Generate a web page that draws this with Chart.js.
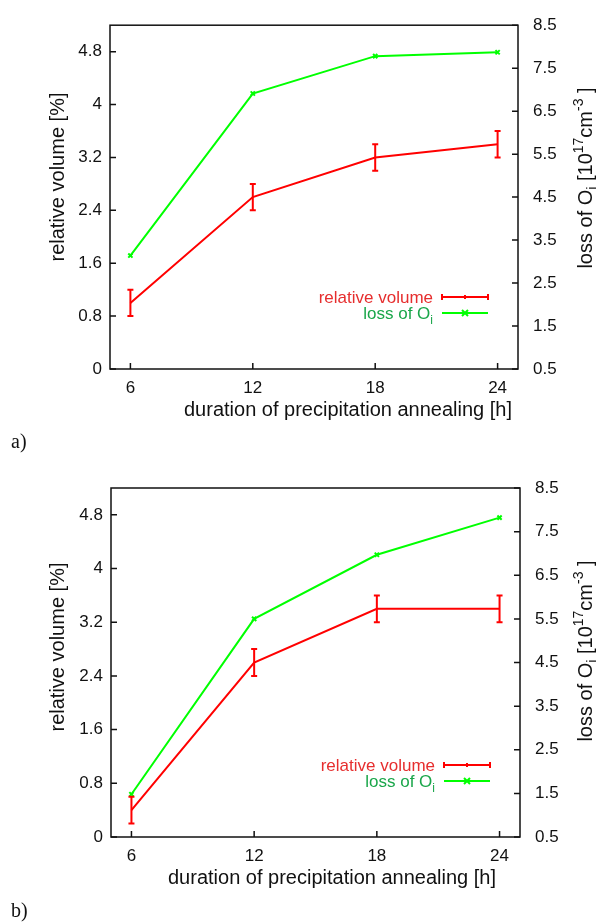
<!DOCTYPE html>
<html lang="en">
<head>
<meta charset="UTF-8">
<title>Relative volume and loss of Oi vs. annealing time</title>
<script src="https://cdn.jsdelivr.net/npm/chart.js"></script>
<style>
  body { margin: 0; background: #fff; }
  .panel { position: absolute; left: 0; width: 596px; }
  #panelA { top: 0; height: 460px; }
  #panelB { top: 460px; height: 462px; }
</style>
</head>
<body>
<div class="panel" id="panelA"><canvas id="chartA"></canvas></div>
<div class="panel" id="panelB"><canvas id="chartB"></canvas></div>
<script>
// annealing durations [h]
const hours = [6, 12, 18, 24];

// panel a
const volA = [1.0, 2.6, 3.2, 3.4];
const volErrA = [0.2, 0.2, 0.2, 0.2];
const lossA = [3.14, 6.91, 7.78, 7.87];

// panel b
const volB = [0.4, 2.6, 3.4, 3.4];
const volErrB = [0.2, 0.2, 0.2, 0.2];
const lossB = [1.48, 5.5, 6.97, 7.82];

// tick labels
const xTicks = [6, 12, 18, 24];
const yTicks = [0, 0.8, 1.6, 2.4, 3.2, 4, 4.8];
const y2Ticks = [0.5, 1.5, 2.5, 3.5, 4.5, 5.5, 6.5, 7.5, 8.5];

const SANS = '"Liberation Sans", Arial, Helvetica, sans-serif';
const SERIF = '"Liberation Serif", "Times New Roman", serif';
const INK = '#111';

Chart.defaults.font.family = SANS;
Chart.defaults.color = INK;

// draws a string made of pieces (sub/superscripts) starting at x
function richWidth(ctx, parts) {
    let w = 0;
    parts.forEach(p => {
        ctx.font = p.size + 'px ' + SANS;
        w += ctx.measureText(p.t).width;
    });
    return w;
}
function drawRich(ctx, parts, x, y, align) {
    const w = richWidth(ctx, parts);
    let cx = align === 'right' ? x - w : (align === 'center' ? x - w / 2 : x);
    ctx.textAlign = 'left';
    ctx.textBaseline = 'alphabetic';
    parts.forEach(p => {
        ctx.font = p.size + 'px ' + SANS;
        ctx.fillText(p.t, cx, y + (p.dy || 0));
        cx += ctx.measureText(p.t).width;
    });
}

const errorBars = {
    id: 'errorBars',
    afterDatasetsDraw(chart) {
        const ctx = chart.ctx;
        const xs = chart.scales.x;
        chart.data.datasets.forEach(ds => {
            if (!ds.errors) return;
            const ys = chart.scales[ds.yAxisID];
            ctx.save();
            ctx.strokeStyle = ds.borderColor;
            ctx.lineWidth = 2;
            ds.data.forEach((pt, j) => {
                const px = xs.getPixelForValue(pt.x);
                const top = ys.getPixelForValue(pt.y + ds.errors[j]);
                const bot = ys.getPixelForValue(pt.y - ds.errors[j]);
                ctx.beginPath();
                ctx.moveTo(px, top); ctx.lineTo(px, bot);
                ctx.moveTo(px - 3, top); ctx.lineTo(px + 3, top);
                ctx.moveTo(px - 3, bot); ctx.lineTo(px + 3, bot);
                ctx.stroke();
            });
            ctx.restore();
        });
    }
};

const frame = {
    id: 'frame',
    afterDraw(chart) {
        const ctx = chart.ctx;
        const a = chart.chartArea;
        const p = chart.options.plugins.frame;
        const {x, y, y2} = chart.scales;
        ctx.save();
        ctx.strokeStyle = INK;
        ctx.lineWidth = 1.5;
        ctx.strokeRect(a.left, a.top, a.right - a.left, a.bottom - a.top);
        ctx.beginPath();
        xTicks.forEach(v => {
            const px = x.getPixelForValue(v);
            ctx.moveTo(px, a.bottom); ctx.lineTo(px, a.bottom - 6);
        });
        yTicks.forEach(v => {
            const py = y.getPixelForValue(v);
            ctx.moveTo(a.left, py); ctx.lineTo(a.left + 6, py);
        });
        y2Ticks.forEach(v => {
            const py = y2.getPixelForValue(v);
            ctx.moveTo(a.right, py); ctx.lineTo(a.right - 6, py);
        });
        ctx.stroke();

        // axis titles
        ctx.fillStyle = INK;
        ctx.font = '20px ' + SANS;
        ctx.textAlign = 'center';
        ctx.textBaseline = 'middle';
        ctx.fillText('duration of precipitation annealing [h]', p.xTitleX, p.xTitleY);

        ctx.save();
        ctx.translate(58, p.yTitleY);
        ctx.rotate(-Math.PI / 2);
        ctx.fillText('relative volume [%]', 0, 0);
        ctx.restore();

        ctx.save();
        ctx.translate(592, p.y2TitleY);
        ctx.rotate(-Math.PI / 2);
        drawRich(ctx, [
            {t: 'loss of O', size: 20},
            {t: 'i', size: 14, dy: 5},
            {t: ' [10', size: 20},
            {t: '17', size: 14, dy: -9},
            {t: 'cm', size: 20},
            {t: '-3', size: 14, dy: -9},
            {t: ' ]', size: 20}
        ], 0, 0, 'center');
        ctx.restore();

        // legend
        const tx = a.right - 85, l1 = a.right - 76, l2 = a.right - 30;
        const r = a.bottom - 72, g = a.bottom - 56;
        ctx.fillStyle = '#e62e2e';
        drawRich(ctx, [{t: 'relative volume', size: 17}], tx, r + 6, 'right');
        ctx.fillStyle = '#1aa64a';
        drawRich(ctx, [{t: 'loss of O', size: 17}, {t: 'i', size: 12, dy: 5}], tx, g + 6, 'right');
        ctx.lineWidth = 2;
        ctx.strokeStyle = '#ff0000';
        ctx.beginPath();
        ctx.moveTo(l1, r); ctx.lineTo(l2, r);
        ctx.moveTo(l1, r - 3); ctx.lineTo(l1, r + 3);
        ctx.moveTo(l2, r - 3); ctx.lineTo(l2, r + 3);
        ctx.moveTo((l1 + l2) / 2, r - 2); ctx.lineTo((l1 + l2) / 2, r + 2);
        ctx.stroke();
        ctx.strokeStyle = '#00ff00';
        ctx.beginPath();
        ctx.moveTo(l1, g); ctx.lineTo(l2, g);
        const m = (l1 + l2) / 2;
        ctx.moveTo(m - 3, g - 3); ctx.lineTo(m + 3, g + 3);
        ctx.moveTo(m - 3, g + 3); ctx.lineTo(m + 3, g - 3);
        ctx.stroke();

        // panel tag
        ctx.fillStyle = INK;
        ctx.font = '20px ' + SERIF;
        ctx.textAlign = 'left';
        ctx.textBaseline = 'middle';
        ctx.fillText(p.tag, 11, p.tagY);
        ctx.restore();
    }
};

function makeChart(canvasId, vol, volErr, loss, box) {
    const fixTicks = list => scale => { scale.ticks = list.map(v => ({value: v})); };
    return new Chart(document.getElementById(canvasId), {
        type: 'line',
        data: {
            datasets: [{
                label: 'relative volume',
                data: hours.map((h, i) => ({x: h, y: vol[i]})),
                errors: volErr,
                yAxisID: 'y',
                borderColor: '#ff0000',
                borderWidth: 2,
                pointRadius: 0,
                tension: 0
            }, {
                label: 'loss of Oi',
                data: hours.map((h, i) => ({x: h, y: loss[i]})),
                yAxisID: 'y2',
                borderColor: '#00ff00',
                borderWidth: 2,
                pointStyle: 'crossRot',
                pointRadius: 3,
                pointBorderWidth: 2,
                pointBorderColor: '#00ff00',
                tension: 0
            }]
        },
        options: {
            responsive: true,
            maintainAspectRatio: false,
            animation: false,
            layout: { padding: { top: box.top, left: 0, right: 0, bottom: 0 } },
            plugins: {
                legend: { display: false },
                tooltip: { enabled: false },
                frame: box
            },
            scales: {
                x: {
                    type: 'linear', min: 5, max: 25,
                    grid: { display: false, drawTicks: false },
                    border: { display: false },
                    afterBuildTicks: fixTicks(xTicks),
                    afterFit: s => { s.height = box.h - box.bottom; },
                    ticks: { font: { size: 17 }, padding: 9, maxRotation: 0, callback: v => String(v) }
                },
                y: {
                    position: 'left', min: 0, max: 5.2,
                    grid: { display: false, drawTicks: false },
                    border: { display: false },
                    afterBuildTicks: fixTicks(yTicks),
                    afterFit: s => { s.width = box.left; },
                    ticks: { font: { size: 17 }, padding: 8, callback: v => String(v) }
                },
                y2: {
                    position: 'right', min: 0.5, max: 8.5,
                    grid: { display: false, drawTicks: false },
                    border: { display: false },
                    afterBuildTicks: fixTicks(y2Ticks),
                    afterFit: s => { s.width = 596 - box.right; },
                    ticks: { font: { size: 17 }, padding: 15, callback: v => v.toFixed(1) }
                }
            }
        },
        plugins: [errorBars, frame]
    });
}

makeChart('chartA', volA, volErrA, lossA,
    { top: 21, left: 110, right: 518, bottom: 369, h: 460,
      xTitleX: 348, xTitleY: 410, yTitleY: 177, y2TitleY: 178, tag: 'a)', tagY: 443 });
makeChart('chartB', volB, volErrB, lossB,
    { top: 28, left: 111, right: 520, bottom: 377, h: 462,
      xTitleX: 332, xTitleY: 418, yTitleY: 187, y2TitleY: 191, tag: 'b)', tagY: 452 });
</script>
</body>
</html>
